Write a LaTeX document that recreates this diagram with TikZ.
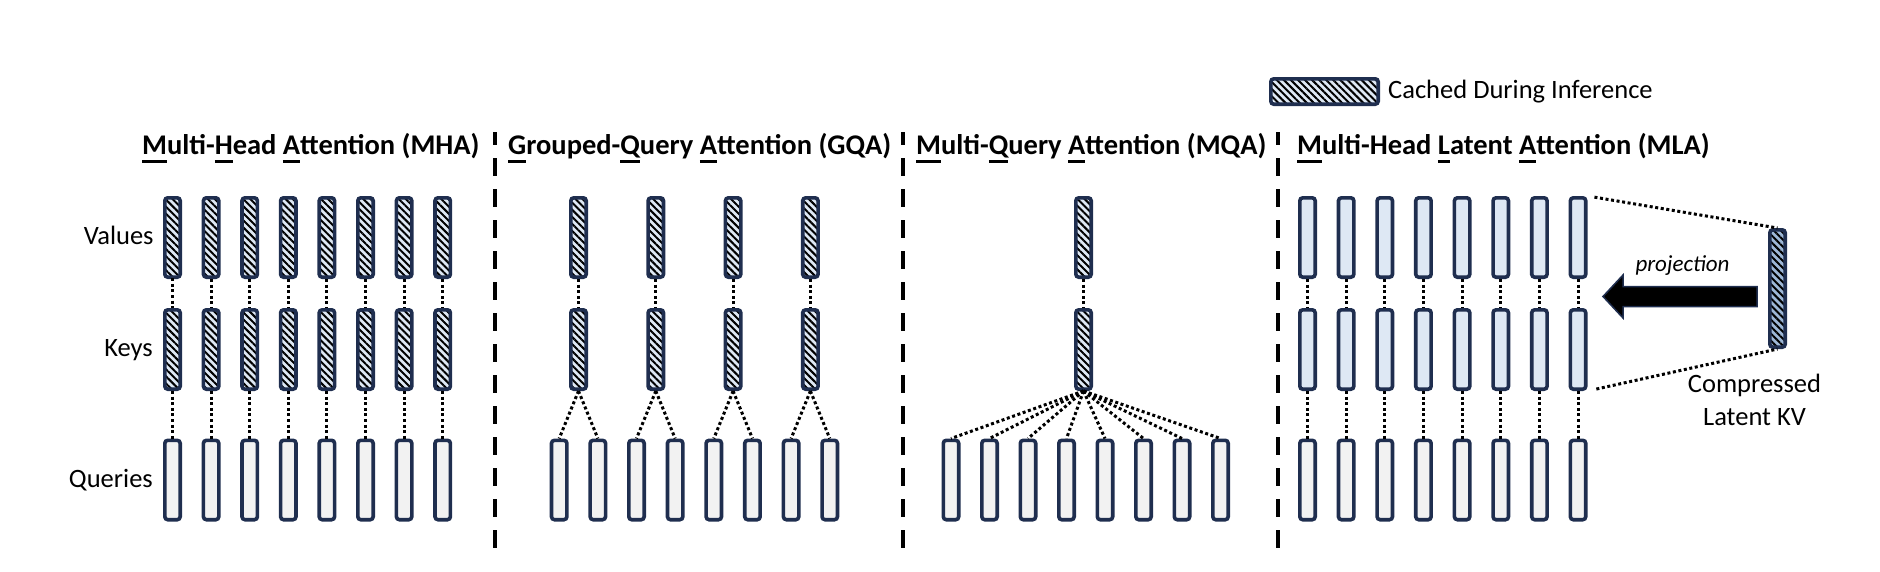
\documentclass[tikz,border=0pt]{standalone}
\usepackage{fontspec}
\setmainfont{Carlito}
\usetikzlibrary{patterns.meta,positioning}
\definecolor{barline}{RGB}{31,46,79}
\definecolor{kvblue}{RGB}{222,232,244}
\definecolor{qgray}{RGB}{242,242,242}
\definecolor{latentblue}{RGB}{157,183,214}
\newcommand{\ulfirst}[1]{\setbox0\hbox{#1}\rlap{\rule[-8.5pt]{\wd0}{3pt}}\box0}
\tikzset{
  bar/.style={draw=barline, line width=3.6pt, rounded corners=3pt, inner sep=0pt,
    minimum width=15.4pt, minimum height=79.4pt},
  hatched/.style={pattern={Lines[angle=-45,distance=5pt,line width=2pt]}, pattern color=black},
  kvbar/.style={bar, preaction={fill=kvblue}, hatched},
  qbar/.style={bar, fill=qgray},
  mlabar/.style={bar, fill=kvblue},
  latentbar/.style={bar, minimum height=117.4pt, preaction={fill=latentblue}, hatched},
  link/.style={line width=3pt, dash pattern=on 3pt off 2.6pt},
  divider/.style={line width=4.5pt, dash pattern=on 18pt off 13pt, dash phase=5pt},
  title/.style={font=\fontsize{28.5}{32}\selectfont\bfseries, anchor=base west, inner sep=0pt},
  rowlabel/.style={font=\fontsize{26.5}{30}\selectfont, anchor=base east, inner sep=0pt},
  plain/.style={font=\fontsize{26.5}{33}\selectfont, inner sep=0pt}
}

\begin{document}
\begin{tikzpicture}[x=1pt,y=-1pt]
\useasboundingbox (0,0) rectangle (1880,571);

\node[title] (mha-title) at (142,154) {\ulfirst{M}ulti-\ulfirst{H}ead \ulfirst{A}ttention (MHA)};
\node[title] (gqa-title) at (508,154) {\ulfirst{G}rouped-\ulfirst{Q}uery \ulfirst{A}ttention (GQA)};
\node[title] (mqa-title) at (916,154) {\ulfirst{M}ulti-\ulfirst{Q}uery \ulfirst{A}ttention (MQA)};
\node[title] (mla-title) at (1297,154) {\ulfirst{M}ulti-Head \ulfirst{L}atent \ulfirst{A}ttention (MLA)};

\foreach \x in {495,903,1278}
  \draw[divider] (\x,132) -- (\x,548);

\foreach \i in {1,...,8} {
  \node[kvbar] (mha-v\i) at ({172.5+38.6*(\i-1)},237.5) {};
  \node[kvbar] (mha-k\i) at ({172.5+38.6*(\i-1)},349.5) {};
  \node[qbar] (mha-q\i) at ({172.5+38.6*(\i-1)},480) {};
  \draw[link] (mha-v\i) -- (mha-k\i);
  \draw[link] (mha-k\i) -- (mha-q\i);
}
\node[rowlabel] (values-label) at ([xshift=-10pt,yshift=-7pt]mha-v1.west) {Values};
\node[rowlabel] (keys-label) at ([xshift=-10pt,yshift=-7pt]mha-k1.west) {Keys};
\node[rowlabel] (queries-label) at ([xshift=-10pt,yshift=-7pt]mha-q1.west) {Queries};

\foreach \j in {1,...,4} {
  \node[kvbar] (gqa-v\j) at ({578.5+77.3*(\j-1)},237.5) {};
  \node[kvbar] (gqa-k\j) at ({578.5+77.3*(\j-1)},349.5) {};
  \draw[link] (gqa-v\j) -- (gqa-k\j);
}
\foreach \i [evaluate=\i as \j using {int(ceil(\i/2))}] in {1,...,8} {
  \node[qbar] (gqa-q\i) at ({559.2+38.65*(\i-1)},480) {};
  \draw[link] (gqa-k\j.south) -- (gqa-q\i.north);
}

\node[kvbar] (mqa-v) at (1083.5,237.5) {};
\node[kvbar] (mqa-k) at (1083.5,349.5) {};
\draw[link] (mqa-v) -- (mqa-k);
\foreach \i in {1,...,8} {
  \node[qbar] (mqa-q\i) at ({951+38.5*(\i-1)},480) {};
  \draw[link] (mqa-k.south) -- (mqa-q\i.north);
}

\foreach \i in {1,...,8} {
  \node[mlabar] (mla-v\i) at ({1307.5+38.65*(\i-1)},237.5) {};
  \node[mlabar] (mla-k\i) at ({1307.5+38.65*(\i-1)},349.5) {};
  \node[qbar] (mla-q\i) at ({1307.5+38.65*(\i-1)},480) {};
  \draw[link] (mla-v\i) -- (mla-k\i);
  \draw[link] (mla-k\i) -- (mla-q\i);
}
\node[latentbar] (latent) at (1777.5,288.5) {};
\draw[link, shorten <=7pt] (mla-v8.north east) -- (latent.north);
\draw[link, shorten <=9pt] (mla-k8.south east) -- (latent.south);

\coordinate (proj-tip) at (1603,296.5);
\draw[barline, line width=1.5pt, fill=black] (proj-tip) -- ++(20,-21.5) -- ++(0,11.5) -- ++(134,0)
  -- ++(0,20) -- ++(-134,0) -- ++(0,11.5) -- cycle;
\node[plain, font=\fontsize{23}{28}\selectfont\itshape] (proj-label) at (1682.5,266) {projection};
\node[plain, align=center] (latent-label) at (1754.5,399.5) {Compressed\\Latent KV};

\node[kvbar, minimum width=107.4pt, minimum height=25.4pt] (legend) at (1324.5,91.5) {};
\node[plain, anchor=west, right=8pt of legend] (legend-label) {Cached During Inference};
\end{tikzpicture}
\end{document}
